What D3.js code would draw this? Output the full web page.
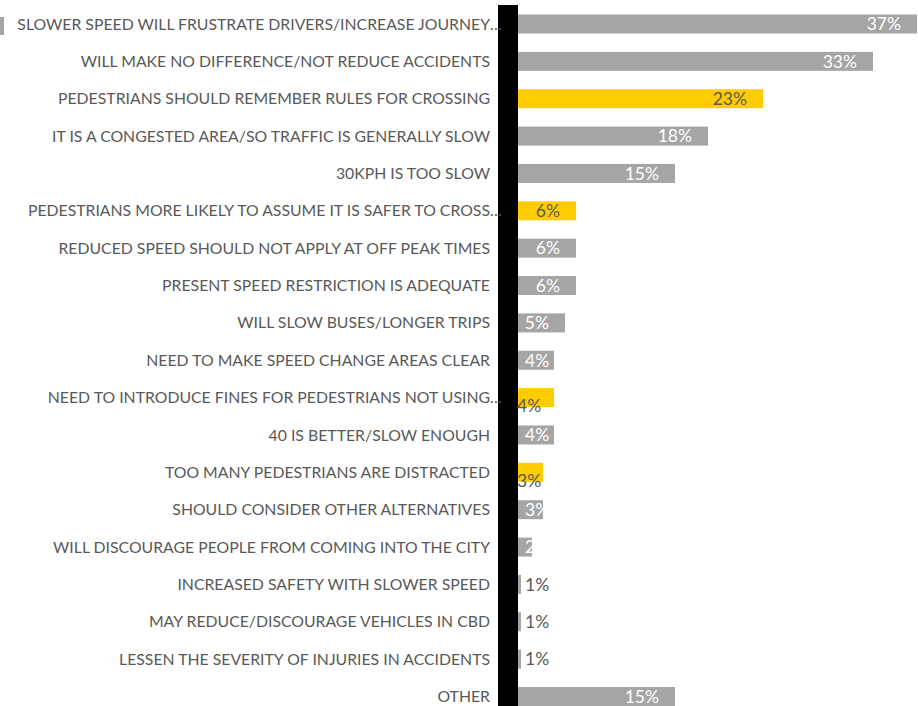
<!DOCTYPE html>
<html><head><meta charset="utf-8">
<script src="https://cdn.jsdelivr.net/npm/d3@7"></script>
<style>html,body{margin:0;padding:0;background:#fff;}svg{display:block;}</style>
</head><body>
<svg id="c" width="918" height="706"></svg>
<script>
const categories = [
  "SLOWER SPEED WILL FRUSTRATE DRIVERS/INCREASE JOURNEY…",
  "WILL MAKE NO DIFFERENCE/NOT REDUCE ACCIDENTS",
  "PEDESTRIANS SHOULD REMEMBER RULES FOR CROSSING",
  "IT IS A CONGESTED AREA/SO TRAFFIC IS GENERALLY SLOW",
  "30KPH IS TOO SLOW",
  "PEDESTRIANS MORE LIKELY TO ASSUME IT IS SAFER TO CROSS…",
  "REDUCED SPEED SHOULD NOT APPLY AT OFF PEAK TIMES",
  "PRESENT SPEED RESTRICTION IS ADEQUATE",
  "WILL SLOW BUSES/LONGER TRIPS",
  "NEED TO MAKE SPEED CHANGE AREAS CLEAR",
  "NEED TO INTRODUCE FINES FOR PEDESTRIANS NOT USING…",
  "40 IS BETTER/SLOW ENOUGH",
  "TOO MANY PEDESTRIANS ARE DISTRACTED",
  "SHOULD CONSIDER OTHER ALTERNATIVES",
  "WILL DISCOURAGE PEOPLE FROM COMING INTO THE CITY",
  "INCREASED SAFETY WITH SLOWER SPEED",
  "MAY REDUCE/DISCOURAGE VEHICLES IN CBD",
  "LESSEN THE SEVERITY OF INJURIES IN ACCIDENTS",
  "OTHER"
];
const values = [37, 33, 23, 18, 15, 6, 6, 6, 5, 4, 4, 4, 3, 3, 2, 1, 1, 1, 15];
const highlighted = [
  "PEDESTRIANS SHOULD REMEMBER RULES FOR CROSSING",
  "PEDESTRIANS MORE LIKELY TO ASSUME IT IS SAFER TO CROSS…",
  "NEED TO INTRODUCE FINES FOR PEDESTRIANS NOT USING…",
  "TOO MANY PEDESTRIANS ARE DISTRACTED"
];

const data = categories.map((c, i) => ({cat: c, v: values[i], hi: highlighted.includes(c)}));
const svg = d3.select("#c");
const GRAY = "#A5A5A5", YELLOW = "#FFCC00", TXT = "#595959";
const FONT = "Lato, 'Open Sans', sans-serif";

const x = d3.scaleLinear().domain([0, 37]).range([510, 917]);
const y = d3.scalePoint().domain(categories).range([24, 696.5]);
const barH = 19;

// legend marker fragment at top-left
svg.append("rect").attr("x", 0).attr("y", 17).attr("width", 4).attr("height", 18).attr("fill", GRAY);

// bars
svg.append("g").selectAll("rect").data(data).join("rect")
  .attr("x", x(0))
  .attr("y", d => y(d.cat) - barH / 2)
  .attr("width", d => x(d.v) - x(0))
  .attr("height", barH)
  .attr("fill", d => d.hi ? YELLOW : GRAY);

// thick black axis band
svg.append("rect").attr("x", 498).attr("y", 5).attr("width", 20).attr("height", 701).attr("fill", "#000");

// category labels
const lab = svg.append("g").attr("font-family", FONT).attr("font-size", 15.8).attr("fill", TXT);
data.forEach(d => {
  const trunc = d.cat.endsWith("…");
  const main = trunc ? d.cat.slice(0, -1) : d.cat;
  lab.append("text").attr("x", 490).attr("y", y(d.cat)).attr("dy", "0.35em")
    .attr("text-anchor", "end").text(main);
  if (trunc) lab.append("text").attr("x", 490).attr("y", y(d.cat)).attr("dy", "0.35em")
    .attr("text-anchor", "start").text("…");
});

// data labels
const dl = svg.append("g").attr("font-family", FONT).attr("font-size", 17.5);
data.forEach(d => {
  const t = dl.append("text").attr("y", y(d.cat)).attr("dy", "0.36em").text(d.v + "%");
  if (d.v >= 5) {
    t.attr("x", x(d.v) - 16).attr("text-anchor", "end").attr("fill", d.hi ? TXT : "#fff");
  } else if (d.v >= 2) {
    t.attr("x", d.hi ? 517 : 525).attr("text-anchor", "start").attr("fill", d.hi ? TXT : "#fff");
    if (d.hi) t.attr("dy", "0.85em");
  } else {
    t.attr("x", x(d.v) + 4).attr("text-anchor", "start").attr("fill", TXT);
  }
});
</script>
</body></html>
